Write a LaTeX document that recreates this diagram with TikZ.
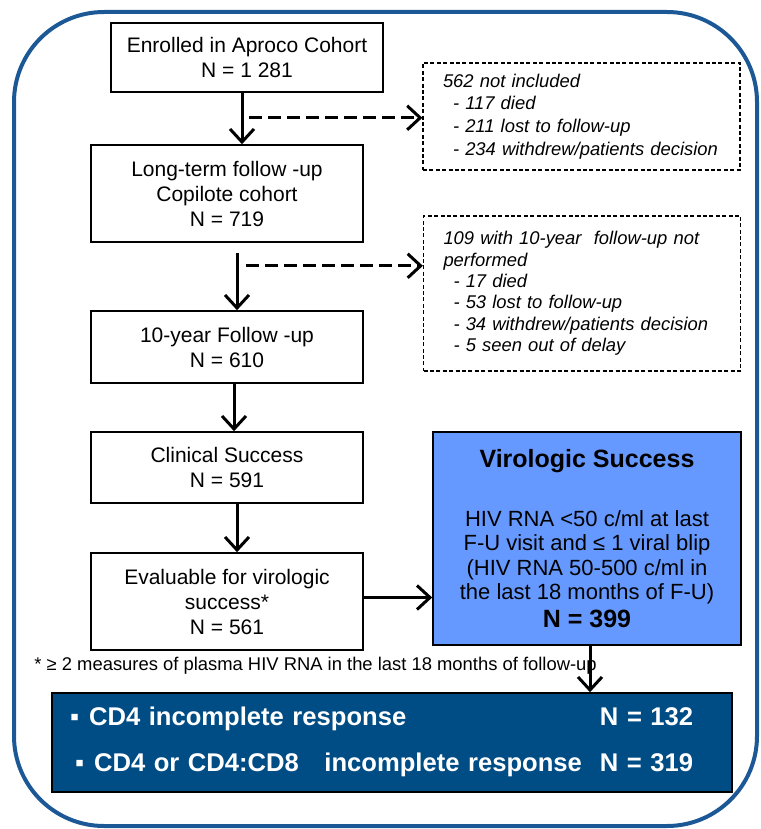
\documentclass[tikz,border=0pt]{standalone}
\usepackage{fontspec}
\setmainfont{Liberation Sans}
\usepackage{xcolor}
\usepackage{tikz}
\usetikzlibrary{positioning}
\usetikzlibrary{arrows.meta}
\definecolor{frameblue}{RGB}{28,88,150}
\definecolor{viroblue}{RGB}{102,153,255}
\definecolor{respblue}{RGB}{0,76,132}
\def\ind{\hspace*{5pt}}
\tikzstyle{flowbox} = [draw=black, line width=0.8pt, minimum width=136pt, align=center, inner sep=2pt, font=\fontsize{10.5}{12.5}\selectfont]
\tikzstyle{exclbox} = [draw=black, line width=0.6pt, dash pattern=on 2pt off 1.2pt, align=left, text width=146pt, inner xsep=6.25pt, minimum width=158.5pt, font=\fontsize{9.2}{11.3}\selectfont\itshape]
\tikzstyle{arrow} = [line width=1.5pt, -{Straight Barb[length=6.5pt,width=12pt]}]
\tikzstyle{dasharrow} = [arrow, dash pattern=on 6.5pt off 3pt]

\begin{document}
\begin{tikzpicture}[x=0.5pt,y=-0.5pt]
      \clip (0,0) rectangle (760,829);
      \draw[frameblue, line width=2pt, rounded corners=45pt] (14,400) -- (14,12) -- (757,12) -- (757,826) -- (14,826) -- cycle;
      \node[flowbox, minimum height=34.5pt] (enrol) at (247,57.5) {Enrolled in Aproco Cohort\\N = 1 281};
      \node[flowbox, minimum height=48.5pt] (cohort) at (227,193.5) {Long-term follow -up\\Copilote cohort\\N = 719};
      \node[flowbox, minimum height=36pt] (tenyear) at (227,347) {10-year Follow -up\\N = 610};
      \node[flowbox, minimum height=35.5pt] (clinical) at (227,467.5) {Clinical Success\\N = 591};
      \node[flowbox, minimum height=48.5pt] (evaluable) at (227,601.5) {Evaluable for virologic\\success*\\N = 561};
      \node[exclbox, minimum height=53.5pt] (excl1) at (581.5,116.5) {\hspace*{3.75pt}562 not included\\\ind\hspace*{3.75pt}- 117 died\\\ind\hspace*{3.75pt}- 211 lost to follow-up\\\ind\hspace*{3.75pt}- 234 withdrew/patients decision};
      \node[exclbox, minimum height=77.5pt, font=\fontsize{9.2}{10.7}\selectfont\itshape] (excl2) at (582,293.5) {\hspace*{3.75pt}109 with 10-year\ \ follow-up not\\\hspace*{3.75pt}performed\\\ind\hspace*{3.75pt}- 17 died\\\ind\hspace*{3.75pt}- 53 lost to follow-up\\\ind\hspace*{3.75pt}- 34 withdrew/patients decision\\\ind\hspace*{3.75pt}- 5 seen out of delay};
      \node[draw=black, line width=0.8pt, fill=viroblue, minimum width=154pt, minimum height=106.5pt, align=center, font=\fontsize{11}{12.3}\selectfont] (viro) at (587,538.5) {{\fontsize{12.5}{14}\selectfont\bfseries Virologic Success}\\[17pt]HIV RNA <50 c/ml at last\\F-U visit and ≤ 1 viral blip\\(HIV RNA 50-500 c/ml in\\the last 18 months of F-U)\\[1.5pt]{\fontsize{12.5}{14}\selectfont\bfseries N = 399}};
      \node[anchor=west, inner sep=0pt, font=\fontsize{9.2}{11}\selectfont] (note) at (34,666) {* ≥ 2 measures of plasma HIV RNA in the last 18 months of follow-up};
      \node[draw=black, line width=0.8pt, fill=respblue, text=white, minimum width=340pt, minimum height=49.5pt, text width=322pt, inner xsep=9pt, align=left, font=\fontsize{12.8}{15}\selectfont\bfseries] (outcome) at (392,742.5) {\begin{tabular}{@{}l@{\hspace{9pt}}l@{}}▪\hspace{5pt}CD4 incomplete response & N = 132\\[8pt]\hspace{2.5pt}▪\hspace{5pt}CD4 or CD4:CD8\ \ \ incomplete response & N = 319\end{tabular}};
      %main line
      \coordinate (a1) at ([xshift=-2.5pt]enrol.south);
      \coordinate (a2) at ([xshift=5pt,yshift=-5pt]cohort.south);
      \coordinate (a3) at ([xshift=3.5pt]tenyear.south);
      \coordinate (a4) at ([xshift=5pt]clinical.south);
      \coordinate (a5) at ([yshift=2pt]evaluable.east);
      \coordinate (a6) at ([xshift=1.5pt]viro.south);
      \draw[arrow] (a1) -- (a1 |- cohort.north);
      \draw[arrow] (a2) -- (a2 |- tenyear.north);
      \draw[arrow] (a3) -- (a3 |- clinical.north);
      \draw[arrow] (a4) -- (a4 |- evaluable.north);
      \draw[arrow] (a5) -- (a5 -| viro.west);
      \draw[arrow] (a6) -- (a6 |- outcome.north);
      %exclusions
      \coordinate (b1) at ([xshift=1pt,yshift=-12.5pt]enrol.south);
      \coordinate (b2) at ([xshift=9.5pt,yshift=-11.5pt]cohort.south);
      \draw[dasharrow] (b1) -- (b1 -| excl1.west);
      \draw[dasharrow] (b2) -- (b2 -| excl2.west);
\end{tikzpicture}
\end{document}
